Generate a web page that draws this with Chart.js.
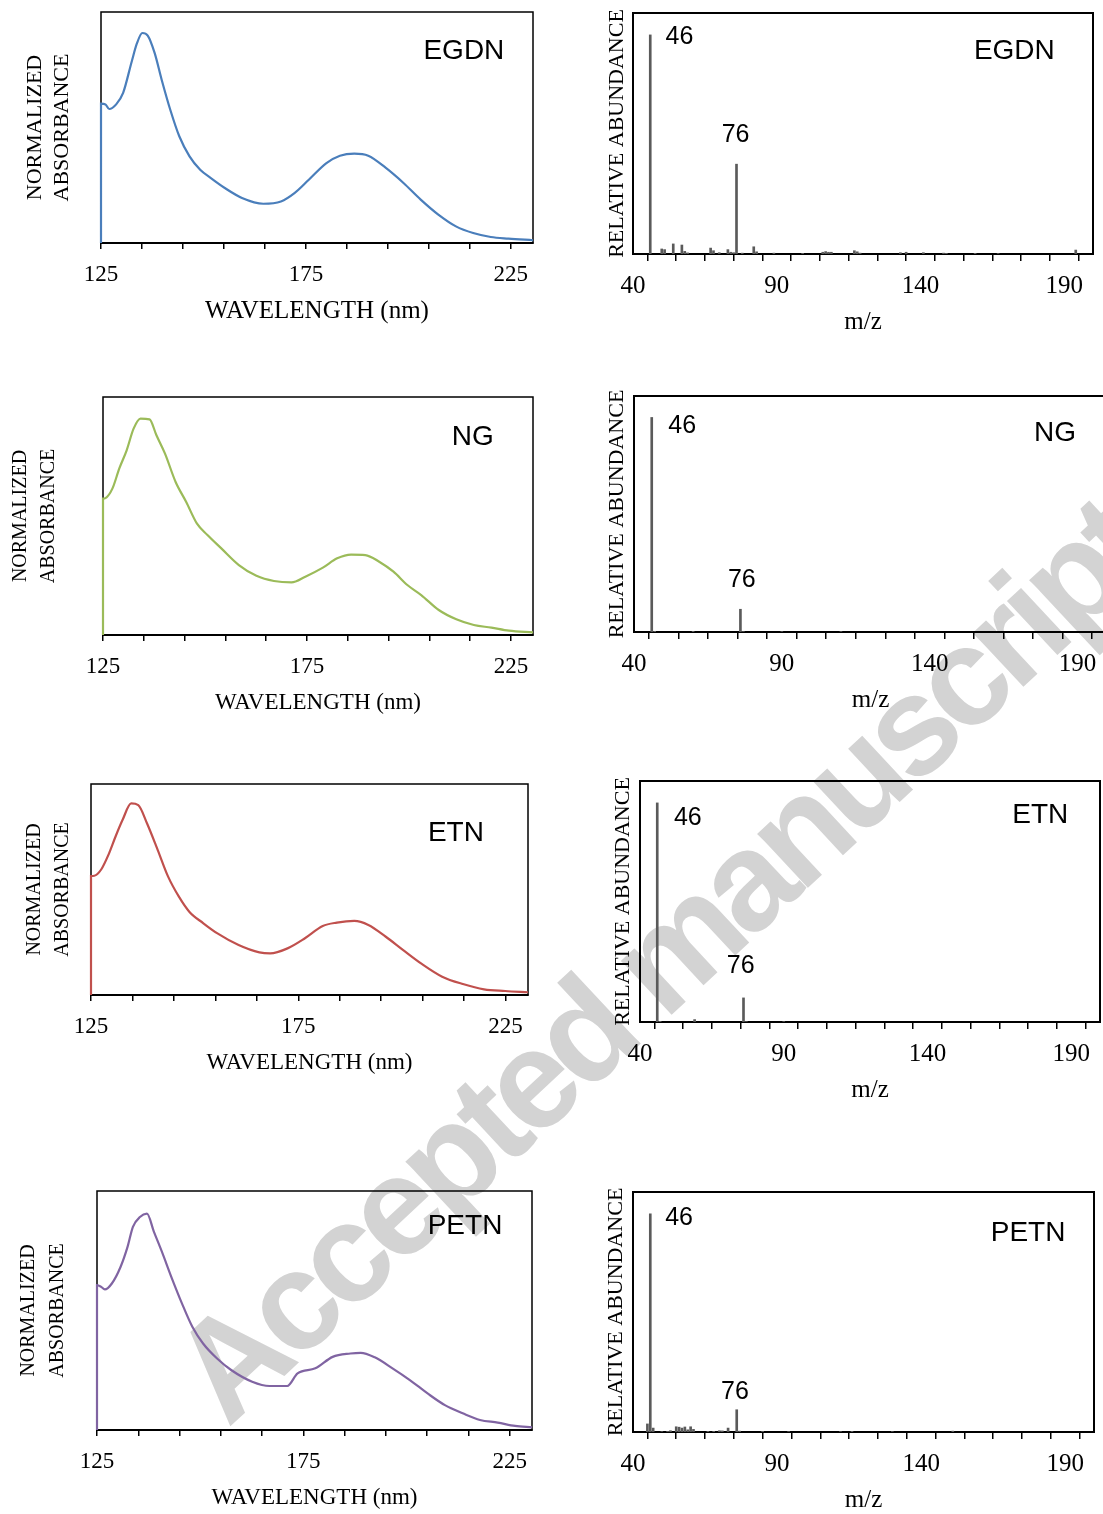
<!DOCTYPE html>
<html>
<head>
<meta charset="utf-8">
<script src="https://cdn.jsdelivr.net/npm/chart.js@4.4.0/dist/chart.umd.min.js"></script>
<style>
    html, body { margin: 0; padding: 0; background: #fff; }
    body { width: 1103px; height: 1514px; position: relative; overflow: hidden; }
    canvas { position: absolute; z-index: 1; }
    #watermark {
        position: absolute; left: 660px; top: 960px; z-index: 0;
        transform: translate(-50%, -50%) rotate(-43deg);
        font: bold 140px "Liberation Sans", Arial, sans-serif;
        letter-spacing: -8px; color: #d3d3d3; white-space: nowrap;
    }
</style>
</head>
<body>
<div id="watermark">Accepted manuscript</div>
<canvas id="uvEGDN"></canvas>
<canvas id="uvNG"></canvas>
<canvas id="uvETN"></canvas>
<canvas id="uvPETN"></canvas>
<canvas id="msEGDN"></canvas>
<canvas id="msNG"></canvas>
<canvas id="msETN"></canvas>
<canvas id="msPETN"></canvas>
<script>
// UV absorbance spectra (wavelength in nm, absorbance)
const uvWlEGDN = [125, 125, 126.1, 127, 128.7, 130.4, 132.5, 133.8, 135.1, 136.4, 138.1, 139.8, 141.9, 144.1, 146.6, 149.2, 151.8, 155.2, 159.4, 164.6, 168.9, 172.2, 175.7, 180, 183.3, 186.8, 190.2, 194.5, 198.8, 203, 207.3, 211.6, 215.8, 220.1, 224.4, 230.4];
const uvAbsEGDN = [0, 0.603, 0.60, 0.58, 0.60, 0.65, 0.786, 0.866, 0.909, 0.898, 0.822, 0.707, 0.577, 0.462, 0.375, 0.317, 0.281, 0.238, 0.195, 0.170, 0.180, 0.216, 0.274, 0.346, 0.378, 0.387, 0.378, 0.325, 0.260, 0.188, 0.123, 0.072, 0.043, 0.026, 0.019, 0.012];

const uvWlNG = [125, 125, 125.6, 127.3, 129, 130.8, 132.5, 134.2, 136.4, 138.1, 140.2, 142.8, 145.4, 148, 150.6, 154, 158.3, 162.6, 166.9, 171.2, 174.6, 178.9, 182.4, 185.8, 189.3, 192.7, 196.2, 199.6, 203, 207.3, 211.6, 215.9, 220.2, 224.5, 230.4];
const uvAbsNG = [0, 0.573, 0.575, 0.615, 0.70, 0.776, 0.867, 0.909, 0.906, 0.839, 0.762, 0.643, 0.559, 0.469, 0.420, 0.364, 0.294, 0.249, 0.227, 0.221, 0.245, 0.283, 0.322, 0.338, 0.336, 0.308, 0.266, 0.210, 0.168, 0.105, 0.066, 0.042, 0.031, 0.018, 0.011];

const uvWlETN = [125, 125, 125.8, 127.5, 129.2, 130.9, 132.6, 134.7, 136.4, 138.5, 141.1, 143.6, 146.2, 148.7, 152.1, 155.5, 160.6, 165.6, 168.2, 172.4, 176.6, 180.9, 184.3, 188.5, 191.9, 196.1, 200.3, 204.6, 209.7, 214.7, 219.8, 224.9, 230.4];
const uvAbsETN = [0, 0.564, 0.565, 0.596, 0.664, 0.750, 0.829, 0.908, 0.900, 0.814, 0.687, 0.561, 0.466, 0.395, 0.340, 0.292, 0.237, 0.202, 0.197, 0.221, 0.269, 0.327, 0.343, 0.351, 0.332, 0.276, 0.213, 0.150, 0.087, 0.052, 0.027, 0.019, 0.013];

const uvWlPETN = [125, 125, 126, 126.9, 128.6, 130.7, 132.4, 133.7, 135.4, 137.1, 138.8, 140.9, 143, 145.6, 148.1, 150.7, 154.1, 157.5, 162.6, 166.8, 171.1, 173.6, 177.9, 182.1, 186.4, 188.9, 192.3, 196.6, 200.8, 205.1, 209.3, 213.6, 217.8, 222.1, 226.3, 230.4];
const uvAbsPETN = [0, 0.606, 0.599, 0.588, 0.613, 0.682, 0.766, 0.85, 0.891, 0.905, 0.829, 0.738, 0.641, 0.529, 0.432, 0.362, 0.299, 0.251, 0.202, 0.184, 0.184, 0.237, 0.258, 0.306, 0.320, 0.323, 0.304, 0.258, 0.209, 0.153, 0.104, 0.070, 0.042, 0.031, 0.017, 0.011];

// mass spectra (m/z, relative abundance, base peak = 100)
const msMzEGDN = [46, 50, 51, 54, 57, 58, 59, 67, 68, 70, 73, 74, 75, 76, 78, 82, 83, 89, 99, 106, 107, 108, 109, 117, 118, 119, 133, 135, 141, 148, 149, 159, 167, 194];
const msAbEGDN = [100, 2.3, 2.0, 4.6, 4.1, 1.2, 0.5, 2.7, 1.5, 0.6, 2.0, 0.8, 0.6, 41, 0.4, 3.3, 1.0, 0.4, 0.3, 0.8, 1.1, 0.8, 0.8, 1.5, 1.0, 0.4, 0.6, 0.8, 0.6, 0.4, 0.3, 0.3, 0.2, 1.8];

const msMzNG = [46, 47, 60, 76, 77, 90, 110];
const msAbNG = [100, 0.3, 0.3, 10.6, 0.2, 0.2, 0.2];

const msMzETN = [46, 47, 59, 76, 77, 90];
const msAbETN = [100, 0.3, 1.1, 11.0, 0.2, 0.2];

const msMzPETN = [45, 46, 47, 50, 52, 53, 55, 56, 57, 58, 59, 60, 61, 66, 68, 70, 71, 73, 76, 77, 85, 94, 112, 116, 130, 151];
const msAbPETN = [3.7, 100, 1.8, 0.2, 0.3, 0.6, 2.4, 2.2, 1.8, 2.3, 1.0, 2.4, 1.2, 0.3, 0.3, 0.6, 0.5, 1.8, 10.2, 0.4, 0.3, 0.2, 0.2, 0.3, 0.2, 0.4];

// axis ticks
const uvTicks = [125, 135, 145, 155, 165, 175, 185, 195, 205, 215, 225];
const uvTickLabels = [125, 175, 225];
const msTicks = [40, 50, 60, 70, 80, 90, 100, 110, 120, 130, 140, 150, 160, 170, 180, 190, 200];
const msTickLabels = [40, 90, 140, 190];

const SERIF = '"Liberation Serif", "Times New Roman", serif';
const SANS = '"Liberation Sans", Arial, sans-serif';

// draws the box around the plot area and the text tags inside it
const framePlugin = {
    id: 'frame',
    beforeDatasetsDraw(chart, args, opts) {
        const { ctx, chartArea: a } = chart;
        ctx.save();
        ctx.strokeStyle = '#000';
        ctx.lineWidth = opts.width || 1.5;
        ctx.strokeRect(a.left, a.top, a.right - a.left, a.bottom - a.top);
        ctx.restore();
    },
    afterDraw(chart, args, opts) {
        const { ctx, chartArea: a } = chart;
        ctx.save();
        ctx.fillStyle = '#000';
        ctx.textAlign = 'center';
        ctx.textBaseline = 'middle';
        (opts.tags || []).forEach(t => {
            ctx.font = t.size + 'px ' + SANS;
            ctx.fillText(t.text, a.left + t.fx * (a.right - a.left), a.top + t.fy * (a.bottom - a.top));
        });
        ctx.restore();
    }
};

function placeCanvas(id, box, L, B) {
    const T = 10, R = 14;
    const cv = document.getElementById(id);
    cv.width = box[2] + L + R;
    cv.height = box[3] + T + B;
    cv.style.left = (box[0] - L) + 'px';
    cv.style.top = (box[1] - T) + 'px';
    return { cv, T, R };
}

function xAxis(min, max, ticks, labels, tickFont, tickLen, tickPad, title, titleFont, B) {
    return {
        type: 'linear', min: min, max: max, offset: false,
        afterBuildTicks: s => { s.ticks = ticks.map(v => ({ value: v })); },
        afterFit: s => { s.height = B; },
        ticks: {
            autoSkip: false, maxRotation: 0, color: '#000', padding: tickPad,
            font: { family: SERIF, size: tickFont },
            callback: v => labels.includes(v) ? String(v) : ''
        },
        grid: { drawOnChartArea: false, drawTicks: true, tickLength: tickLen, color: '#000', lineWidth: 1.5 },
        border: { display: true, color: '#000', width: 2 },
        title: { display: true, text: title, color: '#000', padding: 0, font: { family: SERIF, size: titleFont, lineHeight: 1.2 } }
    };
}

function yAxis(max, title, size, lh, L) {
    return {
        min: 0, max: max,
        afterFit: s => { s.width = L; },
        ticks: { display: false },
        grid: { display: false },
        border: { display: false },
        title: { display: true, text: title, color: '#000', padding: 0, font: { family: SERIF, size: size, lineHeight: lh } }
    };
}

const uvPanels = [
    { id: 'uvEGDN', tag: 'EGDN', wl: uvWlEGDN, abs: uvAbsEGDN, color: '#4a7ebb', box: [101, 12, 432, 231], L: 80, ySize: 22, yLh: 1.26, xSize: 25, fx: 0.840, fy: 0.172 },
    { id: 'uvNG', tag: 'NG', wl: uvWlNG, abs: uvAbsNG, color: '#9bbb59', box: [103, 397, 430, 238], L: 96, ySize: 20, yLh: 1.4, xSize: 23, fx: 0.860, fy: 0.171 },
    { id: 'uvETN', tag: 'ETN', wl: uvWlETN, abs: uvAbsETN, color: '#c0504d', box: [91, 784, 437, 211], L: 70, ySize: 20, yLh: 1.4, xSize: 23, fx: 0.835, fy: 0.234 },
    { id: 'uvPETN', tag: 'PETN', wl: uvWlPETN, abs: uvAbsPETN, color: '#8064a2', box: [97, 1191, 435, 239], L: 83, ySize: 20, yLh: 1.45, xSize: 23, fx: 0.846, fy: 0.149 }
];

uvPanels.forEach(p => {
    const B = Math.round(68 + p.xSize * 0.6);
    const { cv, T, R } = placeCanvas(p.id, p.box, p.L, B);
    new Chart(cv.getContext('2d'), {
        type: 'line',
        data: {
            datasets: [{
                data: p.wl.map((w, i) => ({ x: w, y: p.abs[i] })),
                borderColor: p.color,
                borderWidth: 2.2,
                pointRadius: 0,
                cubicInterpolationMode: 'monotone',
                clip: false,
                fill: false
            }]
        },
        options: {
            responsive: false,
            animation: false,
            layout: { padding: { left: 0, top: T, right: R, bottom: 0 } },
            plugins: {
                legend: { display: false },
                tooltip: { enabled: false },
                frame: { width: 1.5, tags: [{ text: p.tag, size: 28, fx: p.fx, fy: p.fy }] }
            },
            scales: {
                x: xAxis(125, 230.4, uvTicks, uvTickLabels, 23, 6, 12, 'WAVELENGTH (nm)', p.xSize, B),
                y: yAxis(1, ['NORMALIZED', 'ABSORBANCE'], p.ySize, p.yLh, p.L)
            }
        },
        plugins: [framePlugin]
    });
});

const msPanels = [
    { id: 'msEGDN', tag: 'EGDN', mz: msMzEGDN, ab: msAbEGDN, box: [633, 13, 460, 241], L: 29,
      tags: [[0.101, 0.102], [0.223, 0.506], [0.829, 0.160]] },
    { id: 'msNG', tag: 'NG', mz: msMzNG, ab: msAbNG, box: [634, 396, 473, 236], L: 30,
      tags: [[0.102, 0.127], [0.228, 0.779], [0.890, 0.158]] },
    { id: 'msETN', tag: 'ETN', mz: msMzETN, ab: msAbETN, box: [640, 781, 460, 241], L: 30,
      tags: [[0.104, 0.152], [0.219, 0.770], [0.870, 0.141]] },
    { id: 'msPETN', tag: 'PETN', mz: msMzPETN, ab: msAbPETN, box: [633, 1192, 461, 240], L: 30,
      tags: [[0.100, 0.107], [0.221, 0.832], [0.857, 0.172]] }
];

msPanels.forEach(p => {
    const B = Math.round(68 + 25 * 0.6);
    const { cv, T, R } = placeCanvas(p.id, p.box, p.L, B);
    new Chart(cv.getContext('2d'), {
        type: 'bar',
        data: {
            datasets: [{
                data: p.mz.map((m, i) => ({ x: m, y: p.ab[i] })),
                backgroundColor: '#5a5a5a',
                barThickness: 2
            }]
        },
        options: {
            responsive: false,
            animation: false,
            layout: { padding: { left: 0, top: T, right: R, bottom: 0 } },
            plugins: {
                legend: { display: false },
                tooltip: { enabled: false },
                frame: {
                    width: 2,
                    tags: [
                        { text: '46', size: 25, fx: p.tags[0][0], fy: p.tags[0][1] },
                        { text: '76', size: 25, fx: p.tags[1][0], fy: p.tags[1][1] },
                        { text: p.tag, size: 28, fx: p.tags[2][0], fy: p.tags[2][1] }
                    ]
                }
            },
            scales: {
                x: xAxis(40, 200, msTicks, msTickLabels, 25, 7, 10, 'm/z', 25, B),
                y: yAxis(110, 'RELATIVE ABUNDANCE', 22, 1.2, p.L)
            }
        },
        plugins: [framePlugin]
    });
});
</script>
</body>
</html>
